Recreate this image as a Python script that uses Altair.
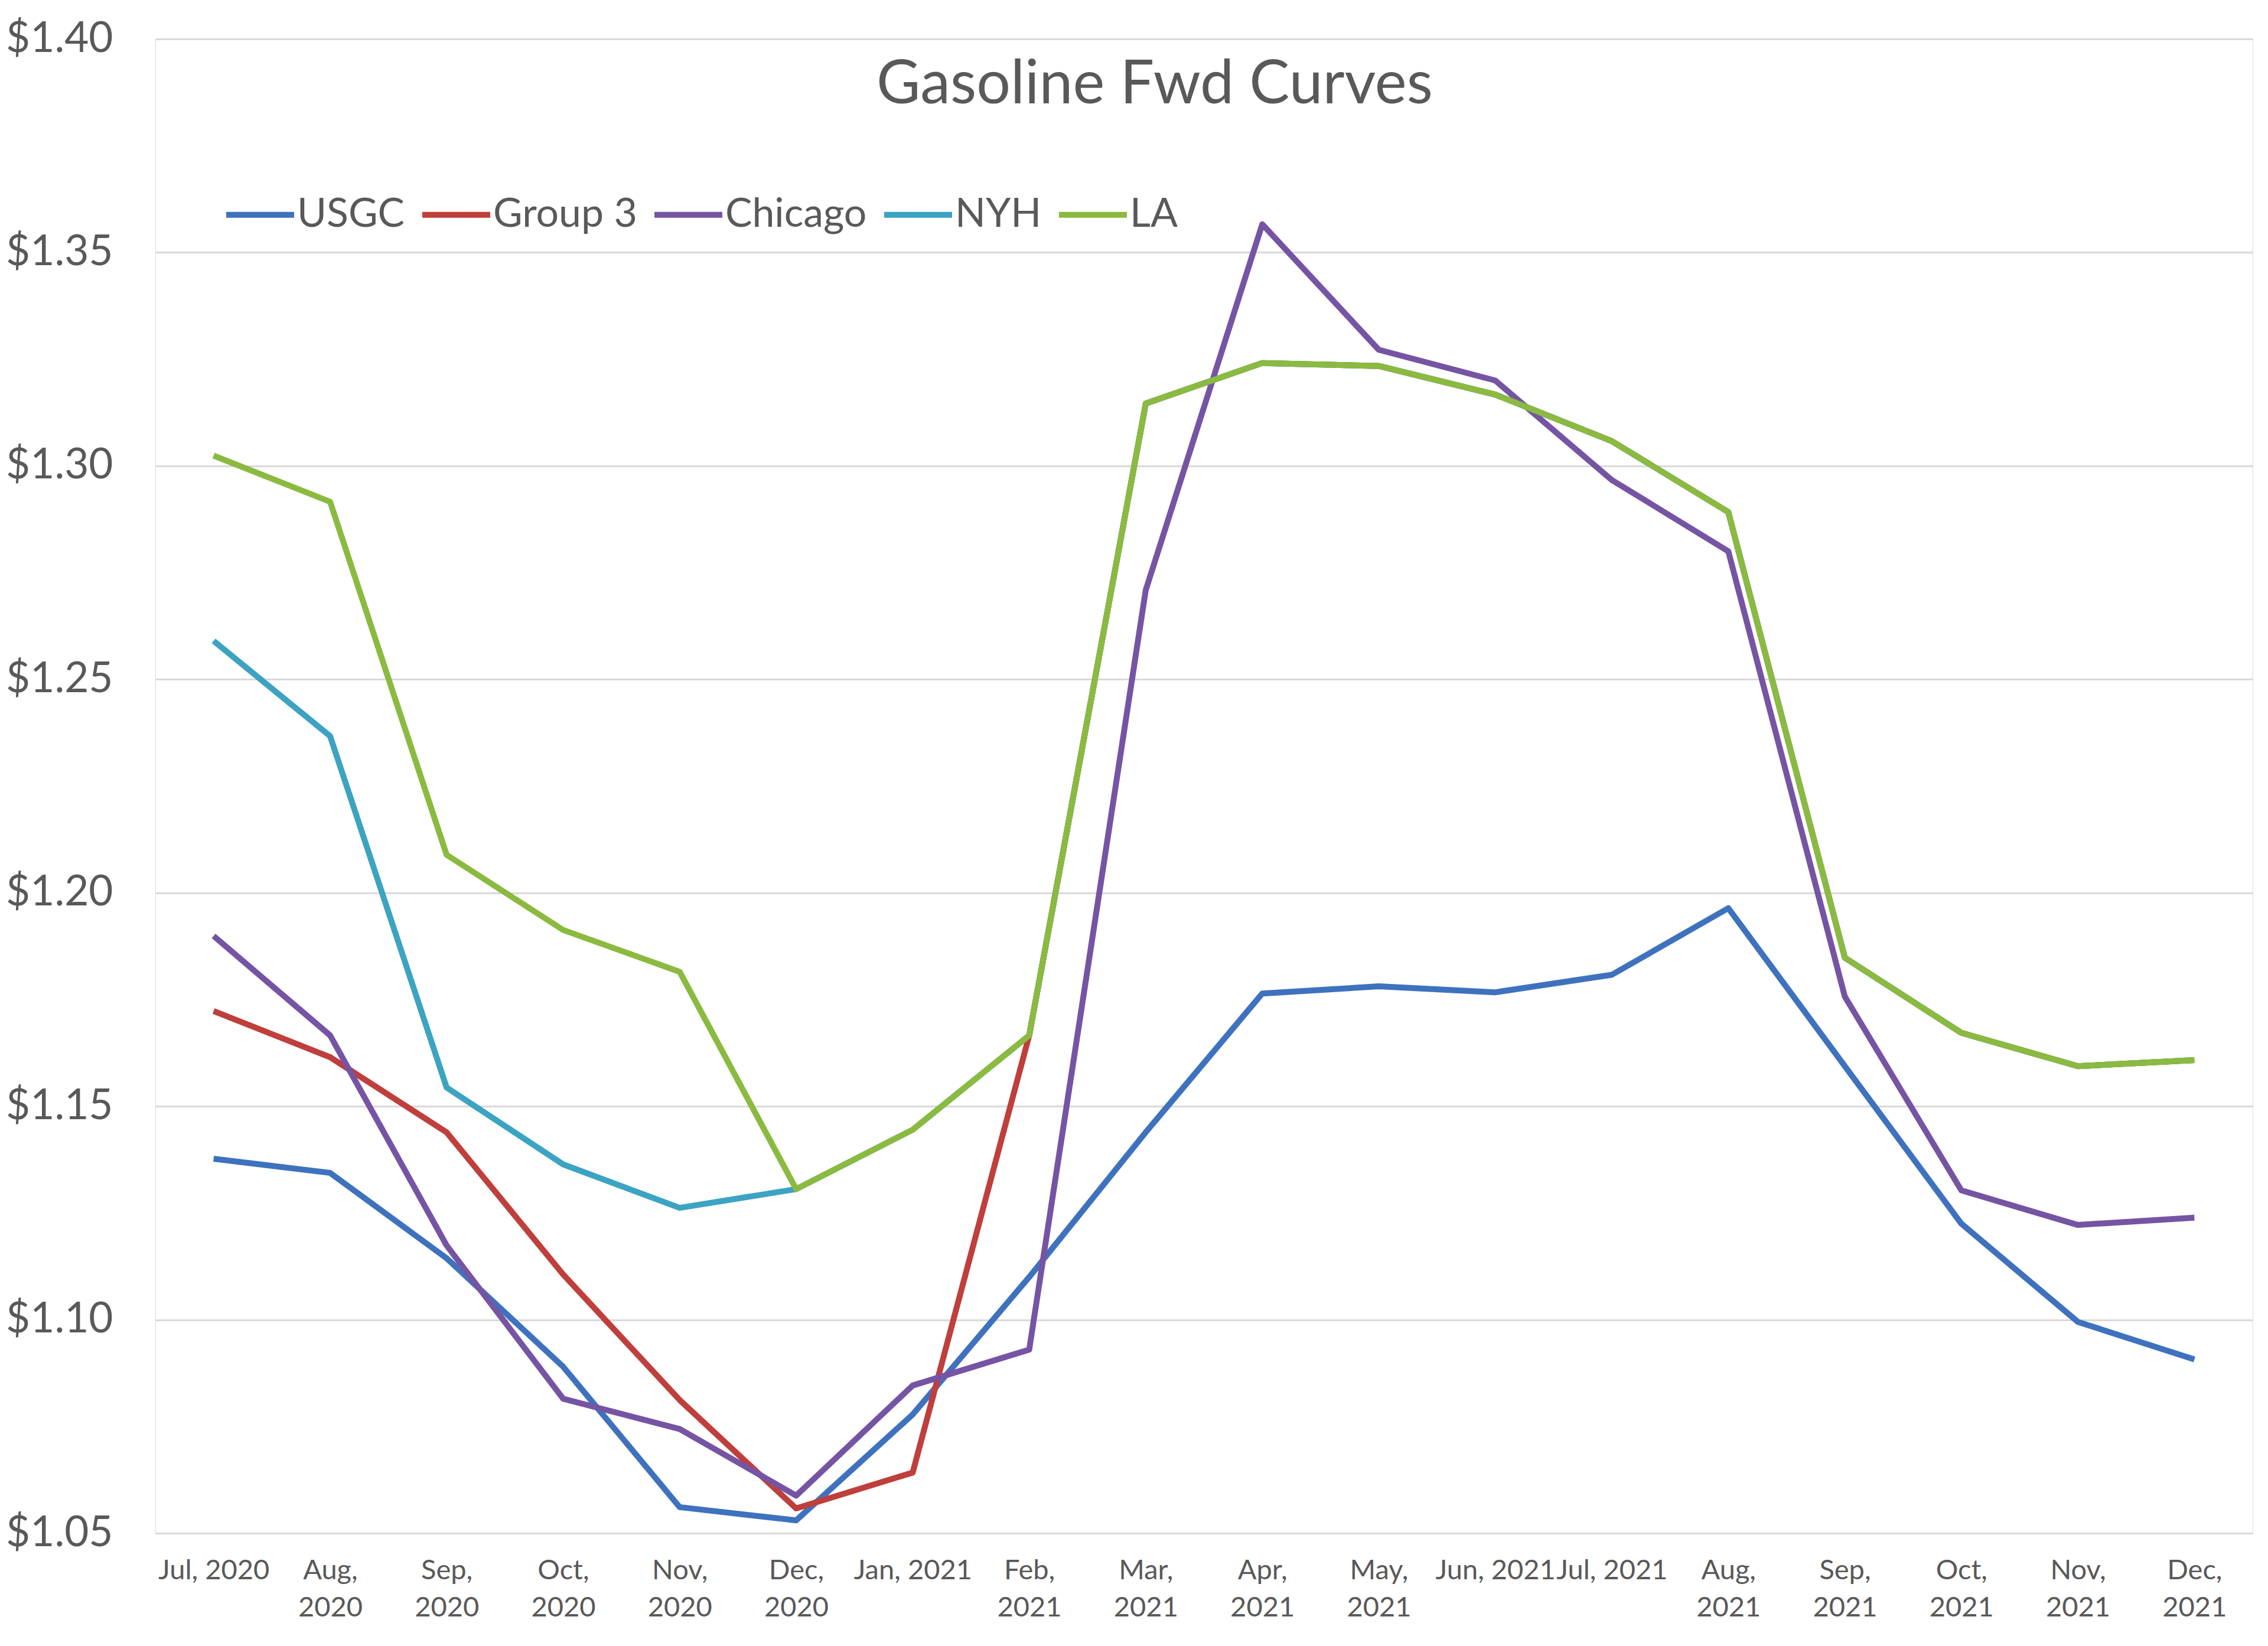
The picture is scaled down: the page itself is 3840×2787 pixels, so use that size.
import altair as alt
import pandas as pd

months = ["Jul, 2020", "Aug, 2020", "Sep, 2020", "Oct, 2020", "Nov, 2020", "Dec, 2020",
          "Jan, 2021", "Feb, 2021", "Mar, 2021", "Apr, 2021", "May, 2021", "Jun, 2021",
          "Jul, 2021", "Aug, 2021", "Sep, 2021", "Oct, 2021", "Nov, 2021", "Dec, 2021"]
single_line_labels = ["Jul, 2020", "Jan, 2021", "Jun, 2021", "Jul, 2021"]

series_names = ["USGC", "Group 3", "Chicago", "NYH", "LA"]
series_colors = ["#3F72BE", "#BF3F3C", "#7654A4", "#3CA3C3", "#8BBA40"]

usgc = [1.1377, 1.1344, 1.1144, 1.0890, 1.0561, 1.0530, 1.0778, 1.1100, 1.1439,
        1.1764, 1.1781, 1.1767, 1.1808, 1.1964, 1.1594, 1.1225, 1.0995, 1.0907]
group3 = [1.1723, 1.1615, 1.1439, 1.1106, 1.0812, 1.0558, 1.0642, 1.1666, 1.3146,
          1.3241, 1.3234, 1.3167, 1.3058, 1.2892, 1.1848, 1.1672, 1.1594, 1.1608]
chicago = [1.1899, 1.1666, 1.1174, 1.0815, 1.0744, 1.0588, 1.0846, 1.0930, 1.2709,
           1.3566, 1.3272, 1.3200, 1.2967, 1.2800, 1.1757, 1.1303, 1.1222, 1.1239]
nyh = [1.2590, 1.2367, 1.1544, 1.1364, 1.1262, 1.1306, 1.1445, 1.1666, 1.3146,
       1.3241, 1.3234, 1.3167, 1.3058, 1.2892, 1.1848, 1.1672, 1.1594, 1.1608]
la = [1.3024, 1.2916, 1.2089, 1.1913, 1.1815, 1.1306, 1.1445, 1.1666, 1.3146,
      1.3241, 1.3234, 1.3167, 1.3058, 1.2892, 1.1848, 1.1672, 1.1594, 1.1608]

y_ticks = [1.05, 1.10, 1.15, 1.20, 1.25, 1.30, 1.35, 1.40]
chart_title = "Gasoline Fwd Curves"

values = {"USGC": usgc, "Group 3": group3, "Chicago": chicago, "NYH": nyh, "LA": la}
rows = []
for si, name in enumerate(series_names):
    for i, m in enumerate(months):
        rows.append({"month": m, "price": values[name][i], "series": name, "order": si})
df = pd.DataFrame(rows)

FONT = "Lato"
GRAY = "#595959"

single_js = "[" + ",".join("'" + s + "'" for s in single_line_labels) + "]"
label_expr = f"indexof({single_js}, datum.value) >= 0 ? datum.value : split(datum.value, ' ')"

lines = alt.Chart(df).mark_line(strokeWidth=10, strokeJoin="round", strokeCap="butt").encode(
    x=alt.X("month:N", sort=months,
            scale=alt.Scale(type="point", padding=0.5),
            axis=alt.Axis(title=None, labelExpr=label_expr, labelAngle=0,
                          labelFont=FONT, labelFontSize=47, labelColor=GRAY,
                          labelLineHeight=63, labelPadding=40, labelBaseline="top",
                          labelLimit=0, labelOverlap=False,
                          domain=False, ticks=False, grid=False)),
    y=alt.Y("price:Q",
            scale=alt.Scale(domain=[1.05, 1.40], nice=False, zero=False),
            axis=alt.Axis(title=None, values=y_ticks, format="$.2f",
                          labelFont=FONT, labelFontSize=71, labelColor=GRAY,
                          labelPadding=72, labelLimit=0, domain=False, ticks=False,
                          grid=True, gridColor="#D9D9D9", gridWidth=3)),
    color=alt.Color("series:N", sort=series_names,
                    scale=alt.Scale(domain=series_names, range=series_colors),
                    legend=alt.Legend(title=None, orient="none", direction="horizontal",
                                      legendX=115, legendY=235,
                                      symbolType="stroke", symbolSize=13225,
                                      symbolStrokeWidth=10, labelLimit=0,
                                      labelFont=FONT, labelFontSize=68, labelColor=GRAY,
                                      labelOffset=0, columnPadding=9)),
    order=alt.Order("order:Q"),
    detail="series:N",
)

title_layer = alt.Chart(pd.DataFrame({"t": [chart_title]})).mark_text(
    font=FONT, fontSize=102, color=GRAY, align="center", baseline="middle"
).encode(text="t:N", x=alt.value(1692), y=alt.value(78))

chart = alt.layer(lines, title_layer).properties(
    width=3551, height=2530,
    autosize=alt.AutoSizeParams(type="none"),
    padding={"left": 255, "top": 58, "right": 18, "bottom": 183},
).configure_view(stroke=None).configure(background="white")

chart.save("out.html", embed_options={"renderer": "svg", "actions": False})
